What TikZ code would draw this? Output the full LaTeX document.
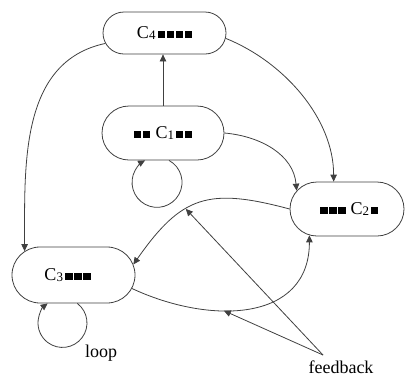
\documentclass[tikz,border=0pt]{standalone}
\usepackage{fontspec}
\setmainfont{Liberation Serif}
\usetikzlibrary{shapes.misc,arrows.meta,calc}
\newcommand\bsq{\rule{7.5pt}{7pt}}
\newcommand\subdig[1]{\raisebox{-1.5pt}{\fontsize{13}{13}\selectfont #1}}
\tikzset{
  state/.style={rounded rectangle, draw=black!75, line width=0.8pt, fill=white,
    inner sep=0pt, font=\fontsize{18}{18}\selectfont},
  conn/.style={draw=black!75, line width=0.8pt, -{Triangle[length=7pt,width=6.5pt]}},
  lbl/.style={font=\fontsize{18}{18}\selectfont, inner sep=0pt}
}
\begin{document}
\begin{tikzpicture}[x=1pt,y=-1pt]
\useasboundingbox (0,0) rectangle (406,378);
\node[state, minimum width=123pt, minimum height=42pt] (C4) at (164.5,33)
  {C\subdig{4}\hspace{2pt}\bsq\hspace{1.5pt}\bsq\hspace{1.5pt}\bsq\hspace{1.5pt}\bsq};
\node[state, minimum width=122pt, minimum height=54pt] (C1) at (163,133)
  {\bsq\hspace{1.5pt}\bsq\hspace{5pt}C\subdig{1}\hspace{1.5pt}\bsq\hspace{1.5pt}\bsq};
\node[state, minimum width=114pt, minimum height=54pt] (C2) at (347,209)
  {\hspace*{4pt}\bsq\hspace{1.5pt}\bsq\hspace{1.5pt}\bsq\hspace{5pt}C\subdig{2}\hspace{1.5pt}\bsq};
\node[state, minimum width=123pt, minimum height=56pt] (C3) at (73.5,275)
  {C\subdig{3}\hspace{2pt}\bsq\hspace{1.5pt}\bsq\hspace{1.5pt}\bsq\hspace*{12pt}};
% edges
\draw[conn] (C1.north) -- (C1.north |- C4.south);
\draw[conn] (C4.-5) to[out=-22,in=90,looseness=0.9] (C2.116);
\draw[conn] (C1.east) to[out=-5,in=95] (C2.160);
\draw[conn] (C4.190) to[out=192,in=90] (C3.154);
\draw[conn] (C2.west) to[out=165,in=55,looseness=1.3] coordinate[pos=0.6] (fa) (C3.10);
\draw[conn] (C3.-13) to[out=-25,in=-90,looseness=1.2] coordinate[pos=0.38] (fb) (C2.215);
% loops
\draw[conn] ($(C1.south)+(6,0)$) arc[start angle=61.4, end angle=-241.4, radius=25pt];
\draw[conn] ($(C3.south)+(3.8,0)$) arc[start angle=52.8, end angle=-232.8, radius=24.5pt];
% feedback
\coordinate (fsrc) at (323,355);
\draw[conn] (fsrc) -- (fa);
\draw[conn] (fsrc) -- (fb);
% labels
\node[lbl, anchor=base] (looplbl) at (101,357) {loop};
\node[lbl, anchor=base] (fblbl) at (341,373) {feedback};
\end{tikzpicture}
\end{document}
